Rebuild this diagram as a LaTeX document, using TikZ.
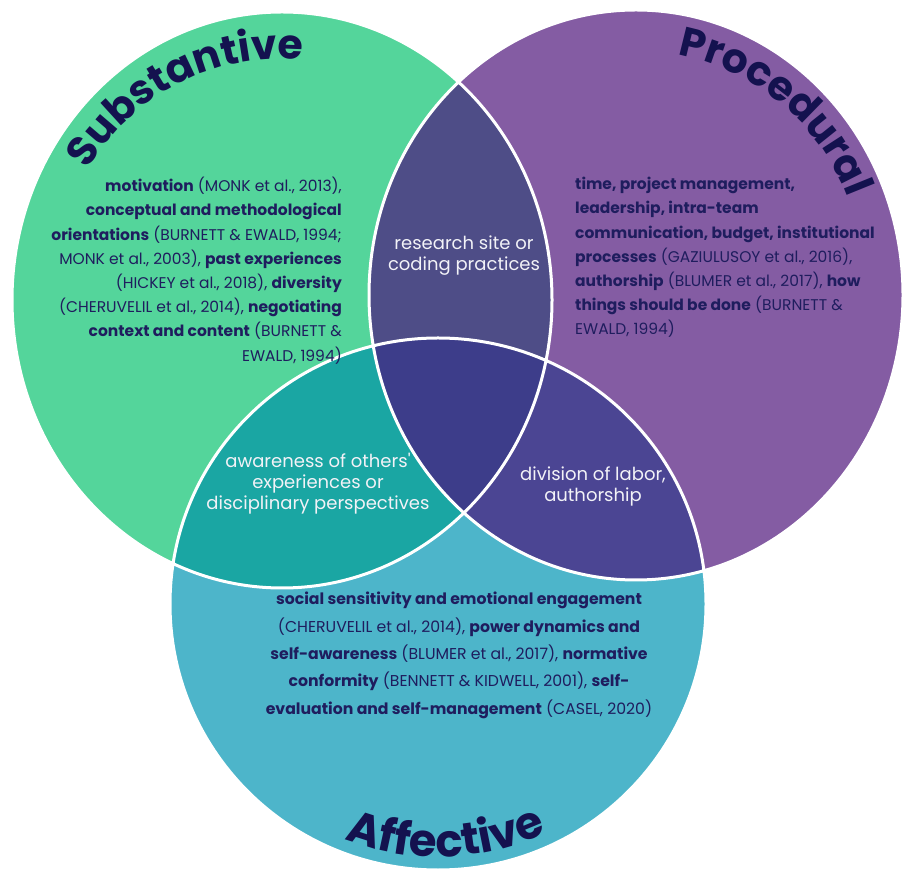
\documentclass[tikz,border=0pt]{standalone}
\usepackage{fontspec}
\setmainfont{Poppins}
\usetikzlibrary{decorations.text}

\definecolor{substfill}{HTML}{54D59B}
\definecolor{procfill}{HTML}{845CA3}
\definecolor{afffill}{HTML}{4DB5CA}
\definecolor{lrfill}{HTML}{4E4D87}
\definecolor{lbfill}{HTML}{1AA6A3}
\definecolor{rbfill}{HTML}{4B4593}
\definecolor{lrbfill}{HTML}{3D3D8A}
\definecolor{headnavy}{HTML}{14124F}
\definecolor{bodynavy}{HTML}{1F1D5E}
\definecolor{lensinkc}{HTML}{F2F2F7}

\newcommand\vennhead{\fontsize{41}{41}\selectfont\bfseries\color{headnavy}}
\newcommand\vennheadB{\fontsize{45}{45}\selectfont\bfseries\color{headnavy}}

\tikzset{
  radL/.style={x radius=270pt, y radius=288pt},
  radR/.style={x radius=267pt, y radius=285pt},
  radB/.style={x radius=268pt, y radius=266pt},
  rim/.style={draw=white, line width=3pt},
  bodytext/.style={inner sep=0pt, text=bodynavy,
    font=\fontsize{15.5}{24.2}\selectfont},
  lenstext/.style={inner sep=0pt, align=center, text=lensinkc,
    font=\fontsize{18}{21}\selectfont},
  headpath/.style={decorate, decoration={text along path,
    text align=center, text={|\vennhead|#1}}},
  headpathB/.style={decorate, decoration={text along path,
    text align=center, text={|\vennheadB|#1}}}
}

\begin{document}
\begin{tikzpicture}[x=1pt,y=1pt]
\useasboundingbox (0,0) rectangle (907,873);
\fill[white] (0,0) rectangle (907,873);

% circle centres
\coordinate (cL) at (282,573);
\coordinate (cR) at (636,578);
\coordinate (cB) at (438,269);

% base discs
\fill[substfill] (cL) ellipse[radL];
\fill[procfill] (cR) ellipse[radR];
\fill[afffill] (cB) ellipse[radB];

% pairwise overlaps
\begin{scope}
  \clip (cL) ellipse[radL];
  \fill[lrfill] (cR) ellipse[radR];
\end{scope}
\begin{scope}
  \clip (cL) ellipse[radL];
  \fill[lbfill] (cB) ellipse[radB];
\end{scope}
\begin{scope}
  \clip (cR) ellipse[radR];
  \fill[rbfill] (cB) ellipse[radB];
\end{scope}
% triple overlap
\begin{scope}
  \clip (cL) ellipse[radL];
  \clip (cR) ellipse[radR];
  \fill[lrbfill] (cB) ellipse[radB];
\end{scope}

% white rims
\draw[rim] (cL) ellipse[radL] (cR) ellipse[radR] (cB) ellipse[radB];

% curved headings
\coordinate (hL) at (282,588);
\coordinate (hR) at (636,596);
\coordinate (hB) at (438,269);
\path[headpath=Substantive] (hL) ++(177:226) arc[start angle=177, end angle=57, radius=226];
\path[headpath=Procedural] (hR) ++(110:226) arc[start angle=110, end angle=-10, radius=226];
\path[headpathB=Affective] (hB) ++(212:253) arc[start angle=212, end angle=332, radius=253];

% body texts
\node[bodytext, anchor=north east, align=right] (subst) at (342,696) {%
\textbf{motivation} (MONK et al., 2013),\\
\textbf{conceptual and methodological}\\
\textbf{orientations} (BURNETT \& EWALD, 1994;\\
MONK et al., 2003), \textbf{past experiences}\\
(HICKEY et al., 2018), \textbf{diversity}\\
(CHERUVELIL et al., 2014), \textbf{negotiating}\\
\textbf{context and content} (BURNETT \&\\
EWALD, 1994)};

\node[bodytext, anchor=north west, align=left] (proc) at (575,696) {%
\textbf{time, project management,}\\
\textbf{leadership, intra-team}\\
\textbf{communication, budget, institutional}\\
\textbf{processes} (GAZIULUSOY et al., 2016),\\
\textbf{authorship} (BLUMER et al., 2017), \textbf{how}\\
\textbf{things should be done} (BURNETT \&\\
EWALD, 1994)};

\node[bodytext, anchor=north, align=center, font=\fontsize{15.7}{27.4}\selectfont] (aff) at (459,281) {%
\textbf{social sensitivity and emotional engagement}\\
(CHERUVELIL et al., 2014), \textbf{power dynamics and}\\
\textbf{self-awareness} (BLUMER et al., 2017), \textbf{normative}\\
\textbf{conformity} (BENNETT \& KIDWELL, 2001), \textbf{self-}\\
\textbf{evaluation and self-management} (CASEL, 2020)};

% overlap labels
\node[lenstext] (lr) at (464,617) {research site or\\coding practices};
\node[lenstext] (lb) at (318,389) {awareness of others\textquotesingle\\experiences or\\disciplinary perspectives};
\node[lenstext] (rb) at (593,387) {division of labor,\\authorship};
\end{tikzpicture}
\end{document}
